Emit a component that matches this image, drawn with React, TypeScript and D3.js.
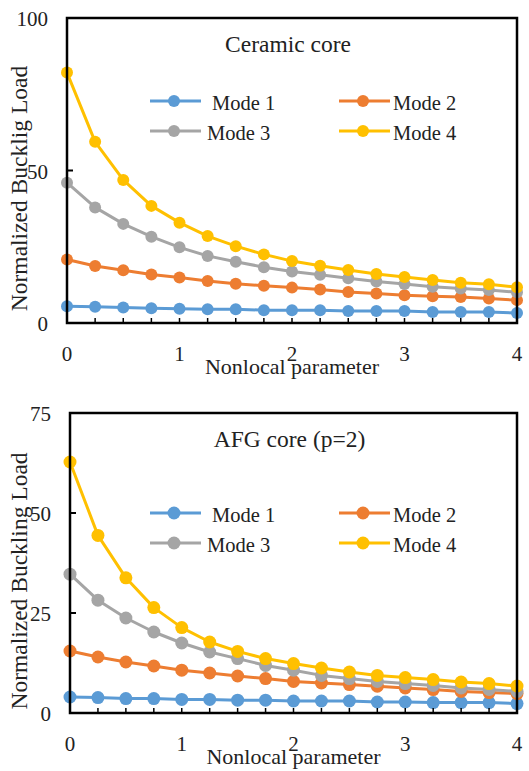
import React from 'react';
import * as d3 from 'd3';

// nonlocal parameter values (x axis)
const nonlocal = [0, 0.25, 0.5, 0.75, 1, 1.25, 1.5, 1.75, 2, 2.25, 2.5, 2.75, 3, 3.25, 3.5, 3.75, 4];
const xTickLabels = [0, 1, 2, 3, 4];

// Ceramic core
const ceramicMode1 = [5.5, 5.3, 5.1, 4.8, 4.7, 4.5, 4.5, 4.2, 4.2, 4.2, 3.9, 3.9, 3.9, 3.6, 3.6, 3.6, 3.3];
const ceramicMode2 = [20.8, 18.7, 17.3, 15.9, 14.9, 13.8, 12.9, 12.2, 11.6, 11.0, 10.2, 9.7, 9.1, 8.8, 8.5, 8.0, 7.5];
const ceramicMode3 = [46.0, 37.9, 32.5, 28.3, 24.8, 22.0, 20.1, 18.3, 16.9, 15.8, 14.7, 13.6, 12.8, 11.9, 11.3, 10.8, 10.1];
const ceramicMode4 = [82.1, 59.4, 46.9, 38.4, 32.9, 28.5, 25.2, 22.5, 20.3, 18.8, 17.4, 16.1, 15.1, 14.1, 13.2, 12.7, 11.7];
const ceramicYTicks = [0, 50, 100];

// AFG core (p=2)
const afgMode1 = [4.0, 3.85, 3.6, 3.6, 3.4, 3.4, 3.2, 3.2, 3.0, 3.0, 3.0, 2.75, 2.75, 2.6, 2.6, 2.6, 2.35];
const afgMode2 = [15.5, 14.0, 12.75, 11.75, 10.7, 10.0, 9.25, 8.6, 7.9, 7.5, 7.1, 6.7, 6.25, 5.85, 5.4, 5.1, 4.85];
const afgMode3 = [34.7, 28.2, 23.75, 20.25, 17.5, 15.25, 13.6, 11.9, 10.7, 9.4, 8.6, 7.9, 7.35, 6.9, 6.25, 5.9, 5.4];
const afgMode4 = [62.75, 44.4, 33.8, 26.35, 21.35, 17.75, 15.4, 13.6, 12.35, 11.25, 10.25, 9.4, 8.85, 8.35, 7.75, 7.35, 6.75];
const afgYTicks = [0, 25, 50, 75];

const modeNames = ['Mode 1', 'Mode 2', 'Mode 3', 'Mode 4'];
const modeColors = ['#5B9BD5', '#ED7D31', '#A5A5A5', '#FFC000'];

const FONT = '"Liberation Serif", serif';

type PanelProps = {
  top: number;
  left: number;
  right: number;
  height: number;
  yMax: number;
  yTicks: number[];
  series: number[][];
  title: string;
  yLabel: string;
  r: number;
  legendY: number;
};

const Panel = ({ top, left, right, height, yMax, yTicks, series, title, yLabel, r, legendY }: PanelProps) => {
  const bottom = top + height;
  const x = d3.scaleLinear().domain([0, 4]).range([left, right]);
  const y = d3.scaleLinear().domain([0, yMax]).range([bottom, top]);
  const line = d3.line<number>()
    .x((_, i) => x(nonlocal[i]))
    .y(d => y(d));

  // legend placement (marker centres)
  const legendCols = [174, 363];
  const legendRows = [legendY, legendY + 30];

  return (
    <g>
      {/* series */}
      {series.map((vals, s) => (
        <g key={s}>
          <path d={line(vals) || ''} fill="none" stroke={modeColors[s]} strokeWidth={3} strokeLinejoin="round" />
          {vals.map((v, i) => (
            <circle key={i} cx={x(nonlocal[i])} cy={y(v)} r={r} fill={modeColors[s]} />
          ))}
        </g>
      ))}

      {/* frame */}
      <rect x={left} y={top} width={right - left} height={height} fill="none" stroke="#000" strokeWidth={2.5} />

      {/* x minor ticks, inside */}
      {nonlocal.map((t, i) => (
        <line key={i} x1={x(t)} x2={x(t)} y1={bottom} y2={bottom - 5} stroke="#000" strokeWidth={1.5} />
      ))}
      {xTickLabels.map(t => (
        <text key={t} x={x(t)} y={bottom + 38} textAnchor="middle" fontFamily={FONT} fontSize={21} fill="#222">{t}</text>
      ))}

      {/* y ticks */}
      {yTicks.map(t => (
        <g key={t}>
          <line x1={left} x2={left + 6} y1={y(t)} y2={y(t)} stroke="#000" strokeWidth={2} />
          <text x={left - 19} y={y(t) + 8} textAnchor="end" fontFamily={FONT} fontSize={21} fill="#222">{t}</text>
        </g>
      ))}

      {/* axis titles */}
      <text x={(left + right) / 2} y={bottom + 51} textAnchor="middle" fontFamily={FONT} fontSize={22} fill="#222">Nonlocal parameter</text>
      <text transform={`translate(27,${top + height / 2 + 18}) rotate(-90)`} textAnchor="middle" fontFamily={FONT} fontSize={23.5} fill="#222">{yLabel}</text>

      {/* chart title */}
      <text x={(left + right) / 2 - 4} y={top + 34} textAnchor="middle" fontFamily={FONT} fontSize={23.5} fill="#222">{title}</text>

      {/* legend */}
      {modeNames.map((name, i) => {
        const cx = legendCols[i % 2];
        const cy = legendRows[Math.floor(i / 2)];
        return (
          <g key={name}>
            <line x1={cx - 24} x2={cx + 27} y1={cy} y2={cy} stroke={modeColors[i]} strokeWidth={3} />
            <circle cx={cx} cy={cy} r={r} fill={modeColors[i]} />
            <text x={cx + (i === 0 ? 38 : i === 2 ? 33 : 30)} y={cy + 9} fontFamily={FONT} fontSize={20.5} fill="#222">{name}</text>
          </g>
        );
      })}
    </g>
  );
};

export default function App() {
  return (
    <svg width={529} height={771} style={{ position: 'absolute', left: 0, top: 0, background: '#fff' }}>
      <rect width={529} height={771} fill="#fff" />
      <Panel
        top={18}
        left={67}
        right={517}
        height={305}
        yMax={100}
        yTicks={ceramicYTicks}
        series={[ceramicMode1, ceramicMode2, ceramicMode3, ceramicMode4]}
        title="Ceramic core"
        yLabel="Normalized Bucklig Load"
        r={6}
        legendY={101}
      />
      <Panel
        top={413}
        left={70}
        right={517}
        height={300}
        yMax={75}
        yTicks={afgYTicks}
        series={[afgMode1, afgMode2, afgMode3, afgMode4]}
        title="AFG core (p=2)"
        yLabel="Normalized Buckling Load"
        r={6.5}
        legendY={513}
      />
    </svg>
  );
}
